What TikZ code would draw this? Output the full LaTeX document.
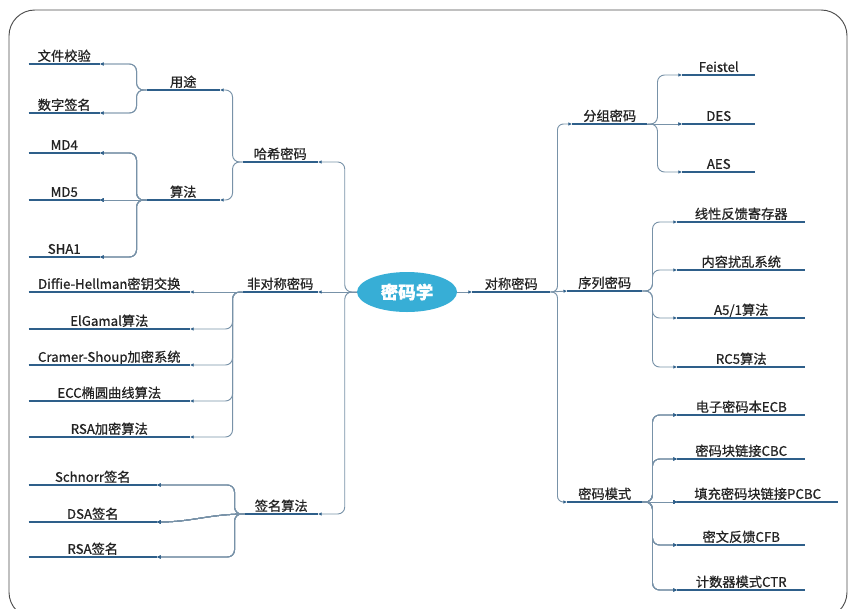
\documentclass[tikz,border=0pt]{standalone}
\usepackage{fontspec}
\setmainfont{Noto Sans CJK SC}[RawFeature={embolden=0.8}]
\usetikzlibrary{arrows.meta,shapes.geometric}
\definecolor{lineblue}{RGB}{46,95,138}
\definecolor{linkgray}{RGB}{120,146,168}
\definecolor{rootblue}{RGB}{55,174,214}
\definecolor{textgray}{RGB}{35,35,35}
\tikzset{
  item/.style={inner xsep=0pt, inner ysep=2.5pt, text depth=0pt, text=textgray,
    font=\fontsize{11.3}{13}\selectfont},
  ulen/.style={minimum width=#1*0.03cm},
  uline/.style={draw=lineblue, line width=2.3pt},
  link/.style={draw=linkgray, line width=0.8pt, rounded corners=6pt,
    -{Latex[length=3pt,width=3pt,color=lineblue]}},
  rootnode/.style={ellipse, fill=rootblue, minimum width=3cm, minimum height=1.2cm,
    inner sep=0pt, text=white, font=\fontsize{15}{17}\selectfont\bfseries},
}
% branch from parent #1 to child #2, leftwards / rightwards
\newcommand{\branchl}[2]{\draw[link] (#1.south west) -- ++(-10,0) coordinate (k)
  -- (k |- #2.south east) [rounded corners=10pt] -- (#2.south east);}
\newcommand{\branchr}[2]{\draw[link] (#1.south east) -- ++(10,0) coordinate (k)
  -- (k |- #2.south west) [rounded corners=10pt] -- (#2.south west);}
\begin{document}
\begin{tikzpicture}[x=0.03cm, y=-0.03cm]
  \useasboundingbox (0,0) rectangle (848,608);
  \begin{scope}
    \clip (0,0) rectangle (848,608);
    \draw[gray!60!black, line width=0.8pt, rounded corners=22pt] (9,10) rectangle (847,618);
  \end{scope}

  % centre
  \node[rootnode] (root) at (407,292) {密码学};

  % left: hash
  \node[item, ulen=75, anchor=south east] (hash) at (318,162) {哈希密码};
  \node[item, ulen=73, anchor=south east] (usage) at (220,90) {用途};
  \node[item, ulen=73, anchor=south east] (algo) at (220,200) {算法};
  \node[item, ulen=71, anchor=south east] (fcheck) at (100,64) {文件校验};
  \node[item, ulen=71, anchor=south east] (dsig) at (100,113) {数字签名};
  \node[item, ulen=71, anchor=south east] (md4) at (100,153) {MD4};
  \node[item, ulen=71, anchor=south east] (md5) at (100,200) {MD5};
  \node[item, ulen=71, anchor=south east] (sha1) at (100,257) {SHA1};

  % left: asymmetric
  \node[item, ulen=75, anchor=south east] (asym) at (318,292) {非对称密码};
  \node[item, ulen=161, anchor=south east] (dh) at (190,292) {Diffie-Hellman密钥交换};
  \node[item, ulen=161, anchor=south east] (elg) at (190,329) {ElGamal算法};
  \node[item, ulen=161, anchor=south east] (cs) at (190,365) {Cramer-Shoup加密系统};
  \node[item, ulen=161, anchor=south east] (ecc) at (190,401) {ECC椭圆曲线算法};
  \node[item, ulen=161, anchor=south east] (rsaenc) at (190,437) {RSA加密算法};

  % left: signatures
  \node[item, ulen=73, anchor=south east] (sign) at (318,514) {签名算法};
  \node[item, ulen=128, anchor=south east] (schnorr) at (157,485) {Schnorr签名};
  \node[item, ulen=128, anchor=south east] (dsa) at (157,522) {DSA签名};
  \node[item, ulen=128, anchor=south east] (rsasig) at (157,557) {RSA签名};

  % right: symmetric
  \node[item, ulen=78, anchor=south west] (sym) at (472,292) {对称密码};
  \node[item, ulen=75, anchor=south west] (block) at (572,124) {分组密码};
  \node[item, ulen=75, anchor=south west] (stream) at (567,291) {序列密码};
  \node[item, ulen=75, anchor=south west] (mode) at (567,502) {密码模式};
  \node[item, ulen=73, anchor=south west] (feistel) at (682,75) {Feistel};
  \node[item, ulen=73, anchor=south west] (des) at (682,124) {DES};
  \node[item, ulen=73, anchor=south west] (aes) at (682,172) {AES};
  \node[item, ulen=128, anchor=south west] (lfsr) at (677,222) {线性反馈寄存器};
  \node[item, ulen=128, anchor=south west] (confuse) at (677,270) {内容扰乱系统};
  \node[item, ulen=128, anchor=south west] (afive) at (677,318) {A5/1算法};
  \node[item, ulen=128, anchor=south west] (rcfive) at (677,367) {RC5算法};
  \node[item, ulen=128, anchor=south west] (ecb) at (677,415) {电子密码本ECB};
  \node[item, ulen=128, anchor=south west] (cbc) at (677,459) {密码块链接CBC};
  \node[item, ulen=161, anchor=south west] (pcbc) at (677,502) {填充密码块链接PCBC};
  \node[item, ulen=128, anchor=south west] (cfb) at (677,545) {密文反馈CFB};
  \node[item, ulen=128, anchor=south west] (ctr) at (677,590) {计数器模式CTR};

  % underlines
  \foreach \n in {hash,usage,algo,fcheck,dsig,md4,md5,sha1,asym,dh,elg,cs,ecc,rsaenc,
      sign,schnorr,dsa,rsasig,sym,block,stream,mode,feistel,des,aes,lfsr,confuse,
      afive,rcfive,ecb,cbc,pcbc,cfb,ctr}
    \draw[uline] (\n.south west) -- (\n.south east);

  % trunks
  \path (root.west) ++(-12,0) coordinate (ltrunk);
  \path (sym.south east) ++(7,0) coordinate (rtrunk);
  \draw[link] (root.west) -- (asym.south east);
  \draw[link] (root.west) -- (ltrunk) -- (ltrunk |- hash.south east)
    [rounded corners=18pt] -- (hash.south east);
  \draw[link] (root.west) -- (ltrunk) -- (ltrunk |- sign.south east)
    [rounded corners=18pt] -- (sign.south east);
  \draw[link] (root.east) -- (sym.south west);
  \draw[link] (sym.south east) -- (stream.south west);
  \draw[link, rounded corners=5pt] (sym.south east) -- (rtrunk) -- (rtrunk |- block.south west)
    [rounded corners=12pt] -- (block.south west);
  \draw[link, rounded corners=5pt] (sym.south east) -- (rtrunk) -- (rtrunk |- mode.south west)
    [rounded corners=8pt] -- (mode.south west);

  % left branches
  \foreach \c in {usage,algo} \branchl{hash}{\c}
  \foreach \c in {fcheck,dsig} \branchl{usage}{\c}
  \foreach \c in {md4,sha1} \branchl{algo}{\c}
  \draw[link] (algo.south west) -- (md5.south east);
  \draw[link] (asym.south west) -- (dh.south east);
  \foreach \c in {elg,cs,ecc,rsaenc} \branchl{asym}{\c}
  \foreach \c in {schnorr,rsasig} \branchl{sign}{\c}
  \draw[link] (sign.south west) to[out=180,in=0] (dsa.south east);

  % right branches
  \foreach \c in {feistel,aes} \branchr{block}{\c}
  \draw[link] (block.south east) -- (des.south west);
  \foreach \c in {lfsr,confuse,afive,rcfive} \branchr{stream}{\c}
  \foreach \c in {ecb,cbc,cfb,ctr} \branchr{mode}{\c}
  \draw[link] (mode.south east) -- (pcbc.south west);
\end{tikzpicture}
\end{document}
